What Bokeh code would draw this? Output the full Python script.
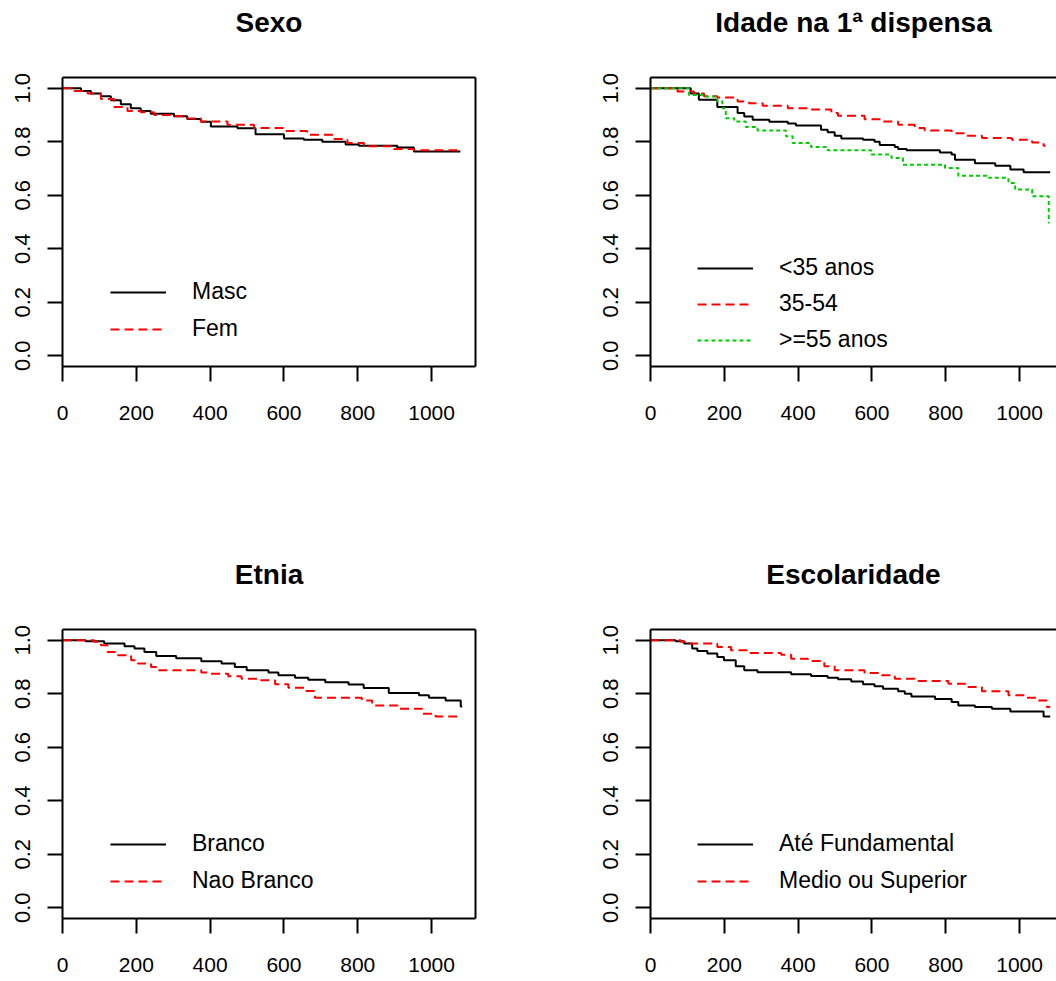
from bokeh.plotting import figure
from bokeh.models import LinearAxis, FixedTicker, Legend, LegendItem, Range1d
from bokeh.layouts import column, row
from bokeh.embed import file_html
from bokeh.resources import INLINE

# ---------------- data (Kaplan-Meier step curves) ----------------
titles = ["Sexo", "Idade na 1ª dispensa", "Etnia", "Escolaridade"]

x_ticks = [0, 200, 400, 600, 800, 1000]
y_ticks = [0.0, 0.2, 0.4, 0.6, 0.8, 1.0]
y_tick_labels = ["0.0", "0.2", "0.4", "0.6", "0.8", "1.0"]

# Sexo
masc_t = [0, 50, 77, 104, 131, 158, 185, 212, 239, 302, 338, 375, 402, 474, 523, 600, 654, 704, 767, 803, 907, 952, 1078]
masc_s = [1.0, 0.99, 0.98, 0.97, 0.955, 0.94, 0.925, 0.915, 0.905, 0.895, 0.885, 0.875, 0.857, 0.85, 0.828, 0.812, 0.807, 0.80, 0.79, 0.785, 0.778, 0.763, 0.763]
fem_t = [0, 32, 68, 104, 140, 176, 212, 248, 302, 338, 375, 447, 519, 600, 663, 736, 772, 817, 898, 952, 1078]
fem_s = [1.0, 0.99, 0.98, 0.96, 0.93, 0.915, 0.91, 0.90, 0.895, 0.887, 0.876, 0.863, 0.851, 0.84, 0.826, 0.81, 0.795, 0.783, 0.773, 0.768, 0.768]

# Idade na 1a dispensa
a35_t = [0, 109, 131, 181, 236, 254, 277, 322, 372, 394, 462, 480, 499, 517, 576, 607, 621, 662, 671, 694, 784, 816, 825, 879, 934, 975, 1011, 1083]
a35_s = [1.0, 0.98, 0.957, 0.93, 0.907, 0.894, 0.882, 0.875, 0.868, 0.861, 0.845, 0.835, 0.822, 0.812, 0.807, 0.80, 0.788, 0.78, 0.773, 0.768, 0.76, 0.752, 0.733, 0.72, 0.71, 0.696, 0.686, 0.686]
a3554_t = [0, 73, 118, 145, 181, 236, 267, 304, 372, 435, 490, 508, 580, 626, 671, 716, 743, 816, 852, 898, 979, 1034, 1065, 1070]
a3554_s = [1.0, 0.988, 0.98, 0.97, 0.965, 0.95, 0.944, 0.934, 0.925, 0.92, 0.907, 0.897, 0.884, 0.876, 0.863, 0.851, 0.842, 0.832, 0.822, 0.814, 0.807, 0.797, 0.785, 0.785]
a55_t = [0, 104, 141, 181, 195, 204, 227, 258, 290, 367, 385, 435, 480, 598, 653, 684, 798, 834, 916, 970, 988, 1034, 1079, 1081]
a55_s = [1.0, 0.975, 0.969, 0.95, 0.925, 0.888, 0.876, 0.855, 0.842, 0.82, 0.795, 0.78, 0.768, 0.752, 0.739, 0.714, 0.702, 0.673, 0.665, 0.646, 0.621, 0.596, 0.497, 0.497]

# Etnia
branco_t = [0, 63, 113, 168, 195, 222, 254, 308, 376, 431, 467, 499, 558, 585, 630, 666, 712, 775, 816, 884, 966, 993, 1038, 1079, 1083]
branco_s = [1.0, 0.996, 0.9875, 0.977, 0.969, 0.956, 0.941, 0.9325, 0.921, 0.9125, 0.90, 0.8875, 0.879, 0.869, 0.86, 0.8525, 0.8425, 0.834, 0.821, 0.8025, 0.794, 0.785, 0.775, 0.7525, 0.7525]
naob_t = [0, 86, 104, 122, 150, 186, 204, 240, 258, 376, 399, 449, 485, 530, 576, 612, 657, 684, 811, 839, 911, 975, 1011, 1083]
naob_s = [1.0, 0.994, 0.981, 0.956, 0.944, 0.925, 0.9125, 0.90, 0.8875, 0.879, 0.875, 0.865, 0.856, 0.85, 0.835, 0.8225, 0.81, 0.785, 0.775, 0.756, 0.744, 0.725, 0.715, 0.715]

# Escolaridade
fund_t = [0, 68, 91, 113, 127, 154, 181, 199, 231, 254, 290, 381, 435, 480, 508, 544, 576, 607, 630, 671, 689, 707, 771, 816, 834, 879, 925, 975, 1065, 1083]
fund_s = [1.0, 0.996, 0.9875, 0.969, 0.96, 0.95, 0.9375, 0.925, 0.9025, 0.8875, 0.88, 0.8725, 0.866, 0.86, 0.854, 0.846, 0.835, 0.8275, 0.819, 0.809, 0.80, 0.79, 0.78, 0.769, 0.756, 0.75, 0.744, 0.734, 0.715, 0.715]
medio_t = [0, 82, 100, 181, 218, 263, 354, 381, 426, 471, 499, 580, 626, 662, 716, 807, 852, 898, 970, 1015, 1047, 1074, 1083]
medio_s = [1.0, 0.994, 0.9875, 0.975, 0.9625, 0.9525, 0.946, 0.931, 0.9225, 0.9025, 0.8875, 0.8775, 0.869, 0.856, 0.8475, 0.8375, 0.825, 0.809, 0.794, 0.785, 0.775, 0.75, 0.75]

panels = [
    (titles[0], [("Masc", masc_t, masc_s), ("Fem", fem_t, fem_s)]),
    (titles[1], [("<35 anos", a35_t, a35_s), ("35-54", a3554_t, a3554_s), (">=55 anos", a55_t, a55_s)]),
    (titles[2], [("Branco", branco_t, branco_s), ("Nao Branco", naob_t, naob_s)]),
    (titles[3], [("Até Fundamental", fund_t, fund_s), ("Medio ou Superior", medio_t, medio_s)]),
]

# ---------------- styling / layout ----------------
FONT = "Liberation Sans"
styles = [("black", None), ("#FF0000", "9 5"), ("#00CD00", "4 3")]
X_FULL = 1119.0            # full x-extent of an (uncropped) panel box, in days
FRAME_W = 413
FRAME_H = 289
SCALE = FRAME_W / X_FULL   # px per day
TOP_GAP = 40               # empty space between title and box top


def style_axis(ax, ticks=True):
    ax.axis_line_color = "black"
    ax.axis_line_width = 2
    ax.major_tick_line_width = 2
    ax.major_tick_line_color = "black"
    ax.major_tick_in = 0
    ax.minor_tick_line_color = None
    ax.major_label_text_font = FONT
    ax.major_label_text_font_size = "21px"
    ax.major_label_text_color = "black"
    if ticks:
        ax.major_tick_out = 15
    else:
        ax.major_tick_out = 0
        ax.ticker = FixedTicker(ticks=[])
        ax.major_label_text_font_size = "0px"
        ax.major_label_standoff = 0


def make_panel(idx, title, series, is_right, is_bottom):
    frame_w = 406 if is_right else FRAME_W
    x_end = frame_w / SCALE
    p = figure(
        frame_width=frame_w, frame_height=FRAME_H,
        min_border_left=62, min_border_top=77,
        min_border_right=0 if is_right else 113,
        min_border_bottom=63 if is_bottom else 186,
        x_range=Range1d(0, x_end), y_range=Range1d(-0.04, 1.04),
        output_backend="svg", toolbar_location=None,
        x_axis_location=None, y_axis_location=None,
        background_fill_color="white", border_fill_color="white",
    )
    p.outline_line_color = None
    p.grid.visible = False

    xa = LinearAxis(ticker=FixedTicker(ticks=x_ticks))
    style_axis(xa)
    xa.major_label_standoff = 24
    p.add_layout(xa, "below")

    ya = LinearAxis(ticker=FixedTicker(ticks=y_ticks))
    style_axis(ya)
    ya.major_label_text_font_size = "22px"
    ya.major_label_overrides = {t: l for t, l in zip(y_ticks, y_tick_labels)}
    ya.major_label_orientation = "vertical"
    ya.major_label_standoff = 17
    p.add_layout(ya, "left")

    # top edge of the box: an axis line whose single (transparent) tick spaces the title
    top = LinearAxis(ticker=FixedTicker(ticks=x_ticks[:1]))
    style_axis(top)
    top.major_tick_out = TOP_GAP
    top.major_tick_line_alpha = 0
    top.major_label_text_font_size = "0px"
    top.major_label_text_alpha = 0
    top.major_label_standoff = 0
    p.add_layout(top, "above")
    if not is_right:
        rt = LinearAxis()
        style_axis(rt, ticks=False)
        p.add_layout(rt, "right")

    items = []
    for k, (lab, t, s) in enumerate(series):
        col, dash = styles[k]
        kw = dict(line_color=col, line_width=2)
        if dash:
            kw["line_dash"] = dash
        r = p.step(t, s, mode="after", **kw)
        items.append(LegendItem(label=lab, renderers=[r]))

    n = len(series)
    pitch = 35 if n == 3 else 36
    leg = Legend(
        items=items, location=(47 if is_right else 48, 13 if n == 3 else 24),
        glyph_width=56, glyph_height=26, label_height=26,
        label_standoff=26, spacing=pitch - 26, padding=0, margin=0,
        border_line_color=None, background_fill_alpha=0,
        label_text_font=FONT, label_text_font_size="23px", label_text_color="black",
    )
    p.add_layout(leg)

    p.title.text = title
    p.title.text_font = FONT
    p.title.text_font_size = "28px"
    p.title.text_font_style = "bold"
    p.title.text_color = "black"
    p.title.align = "center"
    p.title.standoff = 0
    if is_right:
        p.title.offset = 3
    return p


figs = []
for i, (title, series) in enumerate(panels):
    figs.append(make_panel(i, title, series, is_right=(i % 2 == 1), is_bottom=(i >= 2)))

layout = column(row(figs[0], figs[1], spacing=0), row(figs[2], figs[3], spacing=0), spacing=0)

open("out.html", "w").write(file_html(layout, INLINE))
